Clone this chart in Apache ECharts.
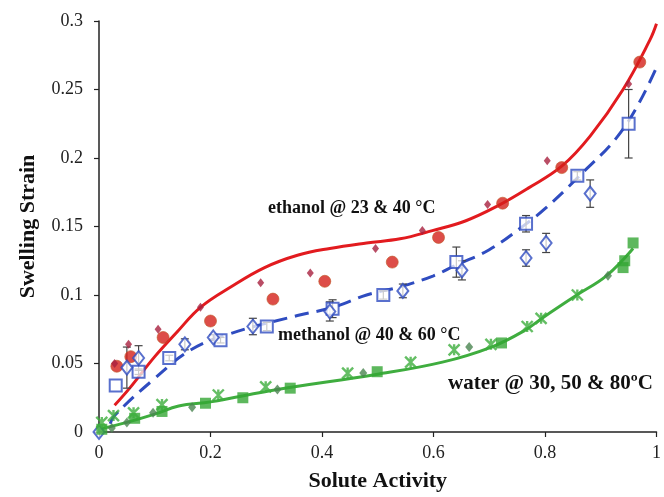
<!DOCTYPE html>
<html>
<head>
<meta charset="utf-8">
<script src="https://cdn.jsdelivr.net/npm/echarts@6/dist/echarts.min.js"></script>
<style>
html,body{margin:0;padding:0;background:#fff;}
#chart{width:664px;height:497px;}
</style>
</head>
<body>
<div id="chart"></div>
<script>
// ---- data ----
const xTicks = [0, 0.2, 0.4, 0.6, 0.8, 1];
const yTicks = [0, 0.05, 0.1, 0.15, 0.2, 0.25, 0.3];

// ethanol
const ethanolCircles = [[0.032,0.048],[0.057,0.055],[0.115,0.069],[0.200,0.081],[0.312,0.097],[0.405,0.110],[0.526,0.124],[0.609,0.142],[0.724,0.167],[0.830,0.193],[0.970,0.270]];
const ethanolDiamonds = [[0.028,0.050],[0.053,0.064],[0.106,0.075],[0.182,0.091],[0.290,0.109],[0.379,0.116],[0.496,0.134],[0.580,0.147],[0.697,0.166],[0.804,0.198],[0.950,0.254]];
const ethanolFit = [[0.028,0.0195],[0.055,0.032],[0.1,0.055],[0.14,0.073],[0.182,0.091],[0.237,0.106],[0.297,0.120],[0.356,0.129],[0.414,0.134],[0.48,0.138],[0.54,0.141],[0.598,0.147],[0.657,0.154],[0.715,0.165],[0.77,0.178],[0.83,0.194],[0.881,0.216],[0.94,0.250],[0.988,0.286],[1.0,0.298]];

// methanol: [x, y, error]
const methanolSquares = [[0.030,0.034,0],[0.071,0.044,0.002],[0.126,0.054,0.002],[0.218,0.067,0.002],[0.301,0.077,0.003],[0.419,0.090,0.0065],[0.510,0.100,0.003],[0.641,0.124,0.011],[0.766,0.152,0.006],[0.858,0.187,0.003],[0.950,0.225,0.025]];
const methanolDiamonds = [[0,0,0],[0.050,0.047,0.015],[0.071,0.054,0.009],[0.154,0.064,0.004],[0.205,0.069,0.002],[0.276,0.077,0.006],[0.414,0.088,0.007],[0.545,0.103,0.005],[0.651,0.118,0.007],[0.766,0.127,0.006],[0.802,0.138,0.007],[0.881,0.174,0.010]];
const methanolFit = [[0.02,0.006],[0.028,0.012],[0.094,0.037],[0.165,0.060],[0.237,0.072],[0.356,0.085],[0.42,0.091],[0.48,0.100],[0.54,0.106],[0.60,0.114],[0.641,0.122],[0.70,0.133],[0.763,0.151],[0.80,0.163],[0.857,0.185],[0.94,0.221],[1.0,0.266]];

// water
const waterSquares = [[0.005,0.002],[0.064,0.010],[0.113,0.015],[0.191,0.021],[0.258,0.025],[0.343,0.032],[0.499,0.044],[0.722,0.065],[0.940,0.120],[0.943,0.125],[0.958,0.138]];
const waterStars = [[0.005,0.007],[0.026,0.012],[0.062,0.014],[0.113,0.020],[0.214,0.027],[0.299,0.033],[0.446,0.043],[0.559,0.051],[0.637,0.060],[0.703,0.064],[0.768,0.077],[0.793,0.083],[0.858,0.100]];
const waterDiamonds = [[0.023,0.003],[0.050,0.007],[0.097,0.014],[0.167,0.018],[0.320,0.031],[0.474,0.043],[0.664,0.062],[0.913,0.114]];
const waterFit = [[0,0.002],[0.05,0.007],[0.1,0.013],[0.143,0.019],[0.2,0.022],[0.32,0.031],[0.497,0.042],[0.616,0.051],[0.704,0.062],[0.763,0.074],[0.798,0.084],[0.857,0.100],[0.91,0.114],[0.958,0.134]];

const labels = {
  ethanol: 'ethanol @ 23 & 40 °C',
  methanol: 'methanol @ 40 & 60 °C',
  water: 'water @ 30, 50 & 80ºC'
};

// ---- styles ----
const RED = '#e21b1f', BLUE = '#2f4cc0', GREEN = '#3fad3f';
const serif = '"Liberation Serif","DejaVu Serif",serif';
const starPath = 'path://M0,0L10,10M10,0L0,10M5,0L5,10';

function errorBars(data, color) {
  return {
    type: 'custom',
    data: data,
    z: 3,
    silent: true,
    renderItem: function (params, api) {
      const x = api.value(0), y = api.value(1), e = api.value(2);
      if (!e) return null;
      const top = api.coord([x, y + e]);
      const bot = api.coord([x, y - e]);
      const w = 4;
      return {
        type: 'group',
        children: [
          {type:'line', shape:{x1:top[0],y1:top[1],x2:bot[0],y2:bot[1]}, style:{stroke:color,lineWidth:1.2}},
          {type:'line', shape:{x1:top[0]-w,y1:top[1],x2:top[0]+w,y2:top[1]}, style:{stroke:color,lineWidth:1.2}},
          {type:'line', shape:{x1:bot[0]-w,y1:bot[1],x2:bot[0]+w,y2:bot[1]}, style:{stroke:color,lineWidth:1.2}}
        ]
      };
    }
  };
}

const chart = echarts.init(document.getElementById('chart'), null, {renderer:'canvas'});
chart.setOption({
  animation: false,
  backgroundColor: '#fff',
  grid: {left: 99, right: 0, top: 21, bottom: 61, containLabel: false},
  xAxis: {
    type: 'value', min: xTicks[0], max: xTicks[xTicks.length-1], interval: 0.2,
    name: 'Solute Activity', nameLocation: 'middle', nameGap: 38,
    nameTextStyle: {fontFamily: serif, fontWeight: 'bold', fontSize: 22, color: '#111'},
    axisLine: {show: true, lineStyle: {color: '#222', width: 1.5}},
    axisTick: {show: true, inside: false, length: 5, lineStyle: {color: '#222', width: 1.2}},
    axisLabel: {fontFamily: serif, fontSize: 18, color: '#222', margin: 12,
      formatter: v => String(xTicks.find(t => Math.abs(t - v) < 1e-9) ?? v)},
    splitLine: {show: false}
  },
  yAxis: {
    type: 'value', min: yTicks[0], max: yTicks[yTicks.length-1], interval: 0.05,
    name: 'Swelling Strain', nameLocation: 'middle', nameGap: 60, nameRotate: 90,
    nameTextStyle: {fontFamily: serif, fontWeight: 'bold', fontSize: 22, color: '#111'},
    axisLine: {show: true, lineStyle: {color: '#222', width: 1.5}},
    axisTick: {show: true, inside: false, length: 5, lineStyle: {color: '#222', width: 1.2}},
    axisLabel: {fontFamily: serif, fontSize: 18, color: '#222', margin: 16,
      formatter: v => String(yTicks.find(t => Math.abs(t - v) < 1e-9) ?? v)},
    splitLine: {show: false}
  },
  series: [
    {type:'line', data: ethanolFit, smooth: 0.4, showSymbol:false, z:2, lineStyle:{color:RED, width:3}},
    {type:'line', data: methanolFit, smooth: 0.4, showSymbol:false, z:2, lineStyle:{color:BLUE, width:3, type:[14,8]}},
    {type:'line', data: waterFit, smooth: 0.4, showSymbol:false, z:2, lineStyle:{color:GREEN, width:3}},
    errorBars(methanolSquares, '#444'),
    errorBars(methanolDiamonds, '#444'),
    {type:'scatter', data: ethanolCircles, symbol:'circle', symbolSize: 12, z:4,
      itemStyle:{color:'#d4201a', borderColor:'#c0582a', borderWidth:0.8}},
    {type:'scatter', data: ethanolDiamonds, symbol:'diamond', symbolSize: [7,9], z:4,
      itemStyle:{color:'#a8203e'}},
    {type:'scatter', data: methanolSquares.map(d=>[d[0],d[1]]), symbol:'rect', symbolSize: 12, z:4,
      itemStyle:{color:'rgba(255,255,255,0.9)', borderColor:BLUE, borderWidth:2}},
    {type:'scatter', data: methanolDiamonds.map(d=>[d[0],d[1]]), symbol:'diamond', symbolSize: [11,14], z:4,
      itemStyle:{color:'rgba(255,255,255,0.9)', borderColor:BLUE, borderWidth:2}},
    {type:'scatter', data: waterSquares, symbol:'rect', symbolSize: 11, z:4,
      itemStyle:{color:'#35a635'}},
    {type:'scatter', data: waterStars, symbol:starPath, symbolSize: 11, z:4,
      itemStyle:{color:'none', borderColor:'#3dae3d', borderWidth:2.4}},
    {type:'scatter', data: waterDiamonds, symbol:'diamond', symbolSize: [8,10], z:4,
      itemStyle:{color:'#4a8550'}}
  ],
  graphic: [
    {type:'text', left: 268, top: 199, z: 10,
      style:{text: labels.ethanol, font: 'bold 18px ' + serif, fill:'#111'}},
    {type:'text', left: 278, top: 326, z: 10,
      style:{text: labels.methanol, font: 'bold 18px ' + serif, fill:'#111'}},
    {type:'text', left: 448, top: 373, z: 10,
      style:{text: labels.water, font: 'bold 21px ' + serif, fill:'#111'}}
  ]
});
</script>
</body>
</html>
